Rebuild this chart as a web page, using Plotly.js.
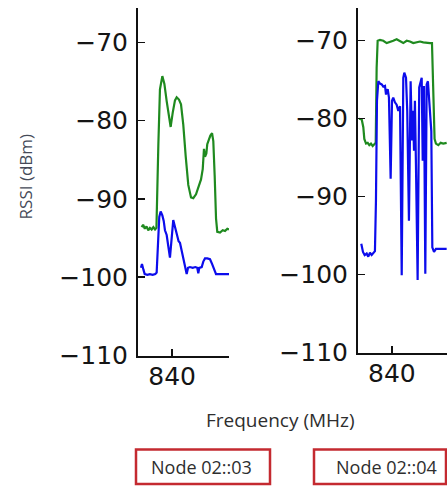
<!DOCTYPE html>
<html>
<head>
<meta charset="utf-8">
<script src="https://cdn.plot.ly/plotly-3.0.1.min.js"></script>
<style>
  html, body { margin: 0; padding: 0; background: #fff; }
  #chart { width: 447px; height: 486px; }
</style>
</head>
<body>
<div id="chart"></div>
<script>
// RSSI spectrum sweeps (dBm vs MHz) for two sensor nodes

// Node 02::03 — green sweep
const n03GreenFreq = [837.32, 837.45, 837.6, 837.75, 837.9, 838.05, 838.2, 838.35, 838.5, 838.62,
  838.79, 838.93, 839.14, 839.32, 839.52, 839.72, 839.87, 840.05, 840.25, 840.40, 840.60, 840.78,
  840.98, 841.19, 841.42, 841.66, 841.86, 842.10, 842.33, 842.54, 842.69, 842.80, 842.89, 843.01,
  843.09, 843.21, 843.36, 843.51, 843.62, 843.74, 843.86, 843.97, 844.21, 844.45, 844.65, 844.85, 845.0];
const n03GreenRssi = [-93.6, -93.3, -93.8, -93.5, -94.0, -93.7, -93.9, -93.6, -93.9, -93.7,
  -83.0, -76.0, -74.3, -75.3, -77.5, -79.8, -80.8, -79.0, -77.4, -77.0, -77.3, -77.9,
  -80.5, -84.5, -88.2, -89.8, -89.9, -89.4, -88.5, -87.5, -86.2, -83.6, -84.6, -84.2,
  -83.0, -82.4, -81.9, -81.6, -82.6, -87.0, -92.5, -94.2, -94.3, -94.0, -94.1, -93.8, -93.9];

// Node 02::03 — blue sweep
const n03BlueFreq = [837.26, 837.35, 837.47, 837.59, 837.82, 838.05, 838.29, 838.52, 838.64, 838.76,
  838.87, 838.99, 839.14, 839.26, 839.37, 839.52, 839.67, 839.81, 839.96, 840.10, 840.22, 840.34,
  840.46, 840.57, 840.69, 840.84, 840.98, 841.13, 841.28, 841.40, 841.57, 841.81, 842.04, 842.21,
  842.30, 842.39, 842.60, 842.74, 842.89, 843.09, 843.33, 843.51, 843.68, 843.86, 844.21, 844.65, 845.0];
const n03BlueRssi = [-98.8, -98.3, -99.0, -99.6, -99.7, -99.6, -99.7, -99.6, -99.4, -96.0,
  -92.3, -91.6, -92.1, -92.8, -94.0, -94.6, -96.2, -97.5, -95.0, -92.7, -93.4, -94.2,
  -94.6, -95.4, -95.6, -96.6, -97.7, -98.6, -99.6, -98.8, -98.7, -98.8, -98.7, -98.8,
  -99.5, -98.8, -98.7, -98.0, -97.6, -97.6, -97.7, -98.3, -99.0, -99.6, -99.6, -99.6, -99.6];

// Node 02::04 — green sweep
const n04GreenFreq = [837.10, 837.33, 837.47, 837.56, 837.71, 837.86, 838.0, 838.15, 838.30, 838.44,
  838.57, 838.65, 838.74, 838.95, 839.24, 839.54, 839.83, 840.12, 840.42, 840.72, 841.01, 841.31,
  841.60, 841.89, 842.19, 842.49, 842.78, 843.08, 843.37, 843.55, 843.67, 843.78, 843.90, 844.11,
  844.32, 844.55, 844.85];
const n04GreenRssi = [-80.0, -80.1, -81.1, -82.6, -83.2, -83.1, -83.4, -83.2, -83.5, -83.3,
  -83.1, -73.5, -70.0, -69.9, -70.0, -70.3, -70.2, -70.0, -69.8, -70.0, -70.3, -70.0,
  -70.1, -70.3, -70.2, -70.1, -70.2, -70.3, -70.3, -70.3, -75.6, -82.6, -83.2, -83.4,
  -83.1, -83.2, -83.1];

// Node 02::04 — blue sweep
const n04BlueFreq = [837.29, 837.44, 837.59, 837.77, 837.91, 838.06, 838.21, 838.35, 838.50, 838.59,
  838.68, 838.80, 838.95, 839.10, 839.24, 839.39, 839.48, 839.63, 839.74, 839.89, 840.01, 840.12,
  840.27, 840.42, 840.57, 840.72, 840.87, 841.01, 841.10, 841.25, 841.36, 841.51, 841.66, 841.78,
  841.87, 841.96, 842.04, 842.13, 842.28, 842.42, 842.55, 842.64, 842.73, 842.84, 842.96, 843.08,
  843.19, 843.31, 843.40, 843.49, 843.58, 843.73, 843.90, 844.26, 844.85];
const n04BlueRssi = [-96.05, -97.1, -97.5, -97.3, -97.7, -97.2, -97.5, -97.2, -97.0, -90.5,
  -77.7, -75.2, -75.5, -75.6, -75.9, -75.8, -76.9, -76.2, -77.3, -87.7, -77.7, -77.3,
  -77.9, -78.2, -79.0, -78.4, -100.1, -74.75, -74.1, -74.75, -79.0, -93.1, -75.2, -82.8,
  -79.0, -84.1, -77.7, -85.8, -100.7, -76.0, -75.2, -74.75, -85.4, -75.8, -99.9, -75.6,
  -75.2, -77.7, -80.3, -81.6, -96.5, -97.1, -96.7, -96.7, -96.7];

// Axis ticks
const rssiTicks = [-110, -100, -90, -80, -70];
const freqTicks = [840];
const freqTickText = ['840'];

// Panel captions and axis titles
const nodeLabels = ['Node 02::03', 'Node 02::04'];
const xTitle = 'Frequency (MHz)';
const yTitle = 'RSSI (dBm)';

const W = 447, H = 486;
const px = v => v / W;
const py = v => 1 - v / H;

const GREEN = '#1f8a1f';
const BLUE = '#0c0cec';

function line(x, y, color, xa, ya) {
  return { x, y, xaxis: xa, yaxis: ya, type: 'scatter', mode: 'lines',
           line: { color, width: 2.2 }, hoverinfo: 'skip', showlegend: false };
}

const data = [
  line(n03GreenFreq, n03GreenRssi, GREEN, 'x', 'y'),
  line(n03BlueFreq, n03BlueRssi, BLUE, 'x', 'y'),
  line(n04GreenFreq, n04GreenRssi, GREEN, 'x2', 'y2'),
  line(n04BlueFreq, n04BlueRssi, BLUE, 'x2', 'y2')
];

const tickFont = { family: 'DejaVu Sans', size: 25, color: '#151515' };

function xAxis(domain, range, anchor) {
  return {
    domain, range, anchor, fixedrange: true,
    showline: true, linecolor: '#111', linewidth: 2,
    showgrid: false, zeroline: false,
    ticks: 'inside', ticklen: 7, tickwidth: 1.5, tickcolor: '#111',
    tickmode: 'array', tickvals: freqTicks, ticktext: freqTickText,
    tickfont: tickFont, ticklabelstandoff: -3
  };
}
function yAxis(domain, range, anchor) {
  return {
    domain, range, anchor, fixedrange: true,
    showline: true, linecolor: '#111', linewidth: 2,
    showgrid: false, zeroline: false,
    ticks: 'inside', ticklen: 7, tickwidth: 1.5, tickcolor: '#111',
    tickmode: 'array', tickvals: rssiTicks,
    tickfont: tickFont, ticklabelstandoff: 3
  };
}

const textFont = { family: 'Open Sans', color: '#2e2e2e' };
const boxRed = '#c42a30';

const layout = {
  width: W, height: H,
  margin: { l: 0, r: 0, t: 0, b: 0 },
  paper_bgcolor: '#ffffff', plot_bgcolor: '#ffffff',
  showlegend: false,
  xaxis: xAxis([px(138), px(229)], [837.0, 845.0], 'y'),
  yaxis: yAxis([py(355.5), py(8)], [-110, -65.6], 'x'),
  xaxis2: xAxis([px(358), 1], [837.0, 844.88], 'y2'),
  yaxis2: yAxis([py(352.5), py(8)], [-110, -65.8], 'x2'),
  annotations: [
    { text: yTitle, xref: 'paper', yref: 'paper', x: px(25.7), y: py(176.7),
      xanchor: 'center', yanchor: 'middle', textangle: -90, showarrow: false,
      font: Object.assign({ size: 17 }, textFont, { color: '#454a58' }) },
    { text: xTitle, xref: 'paper', yref: 'paper', x: px(280.8), y: py(420),
      xanchor: 'center', yanchor: 'middle', showarrow: false,
      font: Object.assign({ size: 19 }, textFont) },
    { text: nodeLabels[0], xref: 'paper', yref: 'paper', x: px(201.7), y: py(467),
      xanchor: 'center', yanchor: 'middle', showarrow: false,
      font: Object.assign({ size: 18 }, textFont) },
    { text: nodeLabels[1], xref: 'paper', yref: 'paper', x: px(386.7), y: py(467),
      xanchor: 'center', yanchor: 'middle', showarrow: false,
      font: Object.assign({ size: 18 }, textFont) }
  ],
  shapes: [
    { type: 'rect', xref: 'paper', yref: 'paper', x0: px(136), x1: px(270), y0: py(484), y1: py(449.5),
      line: { color: boxRed, width: 2.5 }, fillcolor: 'rgba(0,0,0,0)' },
    { type: 'rect', xref: 'paper', yref: 'paper', x0: px(314), x1: px(446), y0: py(484), y1: py(449.5),
      line: { color: boxRed, width: 2.5 }, fillcolor: 'rgba(0,0,0,0)' }
  ]
};

Plotly.newPlot('chart', data, layout, { staticPlot: true, displayModeBar: false });
</script>
</body>
</html>
